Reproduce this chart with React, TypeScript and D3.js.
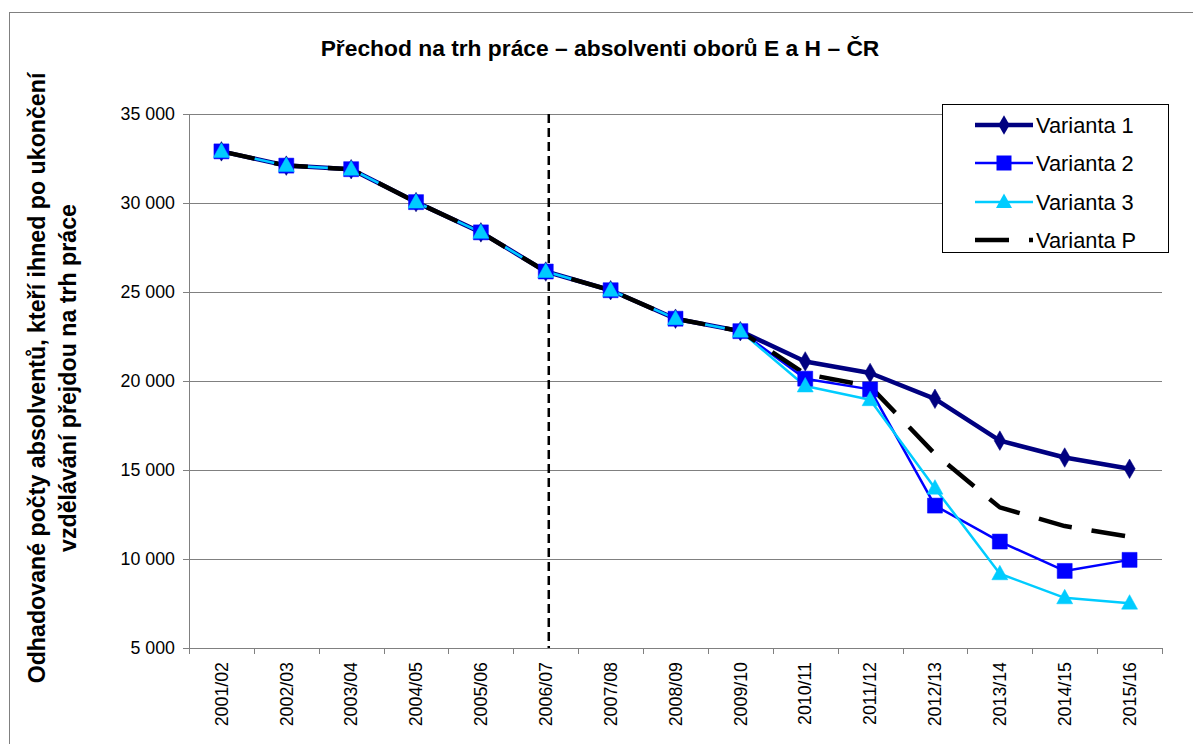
import React from "react";
import * as d3 from "d3";

const categories = ["2001/02","2002/03","2003/04","2004/05","2005/06","2006/07","2007/08","2008/09","2009/10","2010/11","2011/12","2012/13","2013/14","2014/15","2015/16"];
const history = [32900, 32100, 31900, 30050, 28350, 26150, 25100, 23500, 22800];
const variant1 = [...history, 21100, 20450, 19000, 16650, 15700, 15070];
const variant2 = [...history, 20130, 19530, 13000, 10980, 9330, 9950];
const variant3 = [...history, 19720, 18950, 13980, 9170, 7820, 7520];
const variantP = [...history, 20400, 19700, 15900, 12900, 11850, 11250];
const yTicks = [5000, 10000, 15000, 20000, 25000, 30000, 35000];
const seriesNames = ["Varianta 1", "Varianta 2", "Varianta 3", "Varianta P"];
const dividerCategory = "2006/07";

const W = 1193, H = 744;
const left = 189, right = 1162, top = 114, bottom = 648;

const fmt = (v: number) => d3.format(",")(v).replace(/,/g, " ");

export default function App() {
  const x = d3.scaleBand<string>().domain(categories).range([left, right]).padding(0);
  const y = d3.scaleLinear().domain([5000, 35000]).range([bottom, top]);
  const cx = (c: string) => (x(c) as number) + x.bandwidth() / 2;
  const line = d3.line<number>().x((_, i) => cx(categories[i])).y((v) => y(v));

  const styles = [
    { color: "#000080", width: 4.5, marker: "diamond" },
    { color: "#0000FF", width: 2.5, marker: "square" },
    { color: "#00CCFF", width: 2.5, marker: "triangle" },
    { color: "#000000", width: 4.5, marker: "none", dash: "34 20" },
  ];
  const data = [variant1, variant2, variant3, variantP];

  const markerPath = (type: string) => {
    if (type === "diamond") return d3.symbol(d3.symbolDiamond, 110)();
    if (type === "square") return "M-7.5,-7.5H7.5V7.5H-7.5Z";
    if (type === "triangle") return "M0,-8.5L8,6L-8,6Z";
    return "";
  };

  const font = "Arial, 'Liberation Sans', sans-serif";
  const legendX = 975, legendTexts = 1036, legendYs = [125, 163, 202, 240];
  const divX = cx(dividerCategory) + 3;

  return (
    <svg width={W} height={H} style={{ position: "absolute", left: 0, top: 0, background: "#fff" }} fontFamily={font}>
      <rect x={9.5} y={12.5} width={1200} height={760} fill="#fff" stroke="#808080" strokeWidth={1} />
      <text x={600} y={56} textAnchor="middle" fontSize={22.8} fontWeight="bold">Přechod na trh práce – absolventi oborů E a H – ČR</text>

      {yTicks.map((t) => (
        <line key={t} x1={left} x2={right} y1={Math.round(y(t)) + 0.5} y2={Math.round(y(t)) + 0.5} stroke="#808080" strokeWidth={1} />
      ))}
      <line x1={left + 0.5} x2={left + 0.5} y1={top} y2={bottom} stroke="#808080" />
      {yTicks.map((t) => (
        <g key={"yt" + t}>
          <line x1={left - 6} x2={left} y1={Math.round(y(t)) + 0.5} y2={Math.round(y(t)) + 0.5} stroke="#808080" />
          <text x={175} y={y(t)} dy="0.35em" textAnchor="end" fontSize={17.8}>{fmt(t)}</text>
        </g>
      ))}
      {[...categories.map((c) => x(c) as number), right].map((xx, i) => (
        <line key={"xt" + i} x1={Math.round(xx) + 0.5} x2={Math.round(xx) + 0.5} y1={bottom} y2={bottom + 6} stroke="#808080" />
      ))}
      {categories.map((c) => (
        <text key={"xl" + c} transform={`translate(${cx(c)},${bottom + 14}) rotate(-90)`} dy="0.35em" textAnchor="end" fontSize={17.8}>{c}</text>
      ))}

      <g transform={`translate(45,378) rotate(-90)`}>
        <text x={0} y={0} textAnchor="middle" fontSize={23.2} fontWeight="bold">Odhadované počty absolventů, kteří ihned po ukončení</text>
        <text x={0} y={31} textAnchor="middle" fontSize={23.2} fontWeight="bold">vzdělávání přejdou na trh práce</text>
      </g>

      <line x1={divX} x2={divX} y1={top} y2={bottom} stroke="#000" strokeWidth={2.5} strokeDasharray="9 5" />

      {data.map((d, i) => (
        <path key={"l" + i} d={line(d) || ""} fill="none" stroke={styles[i].color} strokeWidth={styles[i].width} strokeDasharray={styles[i].dash} strokeLinejoin="round" />
      ))}
      {data.map((d, i) =>
        styles[i].marker === "none" ? null : d.map((v, j) => (
          <path key={`m${i}-${j}`} d={markerPath(styles[i].marker)} transform={`translate(${cx(categories[j])},${y(v)})`} fill={styles[i].color} stroke={styles[i].color} strokeWidth={0.5} />
        ))
      )}

      <rect x={942.5} y={104.5} width={226} height={148} fill="#fff" stroke="#000" strokeWidth={1} />
      {seriesNames.map((n, i) => (
        <g key={"lg" + i}>
          {i < 3 ? (
            <>
              <line x1={legendX} x2={1033} y1={legendYs[i]} y2={legendYs[i]} stroke={styles[i].color} strokeWidth={styles[i].width} />
              <path d={markerPath(styles[i].marker)} transform={`translate(${(legendX + 1033) / 2},${legendYs[i]})`} fill={styles[i].color} />
            </>
          ) : (
            <line x1={legendX} x2={1033} y1={legendYs[i]} y2={legendYs[i]} stroke="#000" strokeWidth={4.5} strokeDasharray="34 20" />
          )}
          <text x={legendTexts} y={legendYs[i]} dy="0.35em" fontSize={21.8}>{n}</text>
        </g>
      ))}
    </svg>
  );
}
